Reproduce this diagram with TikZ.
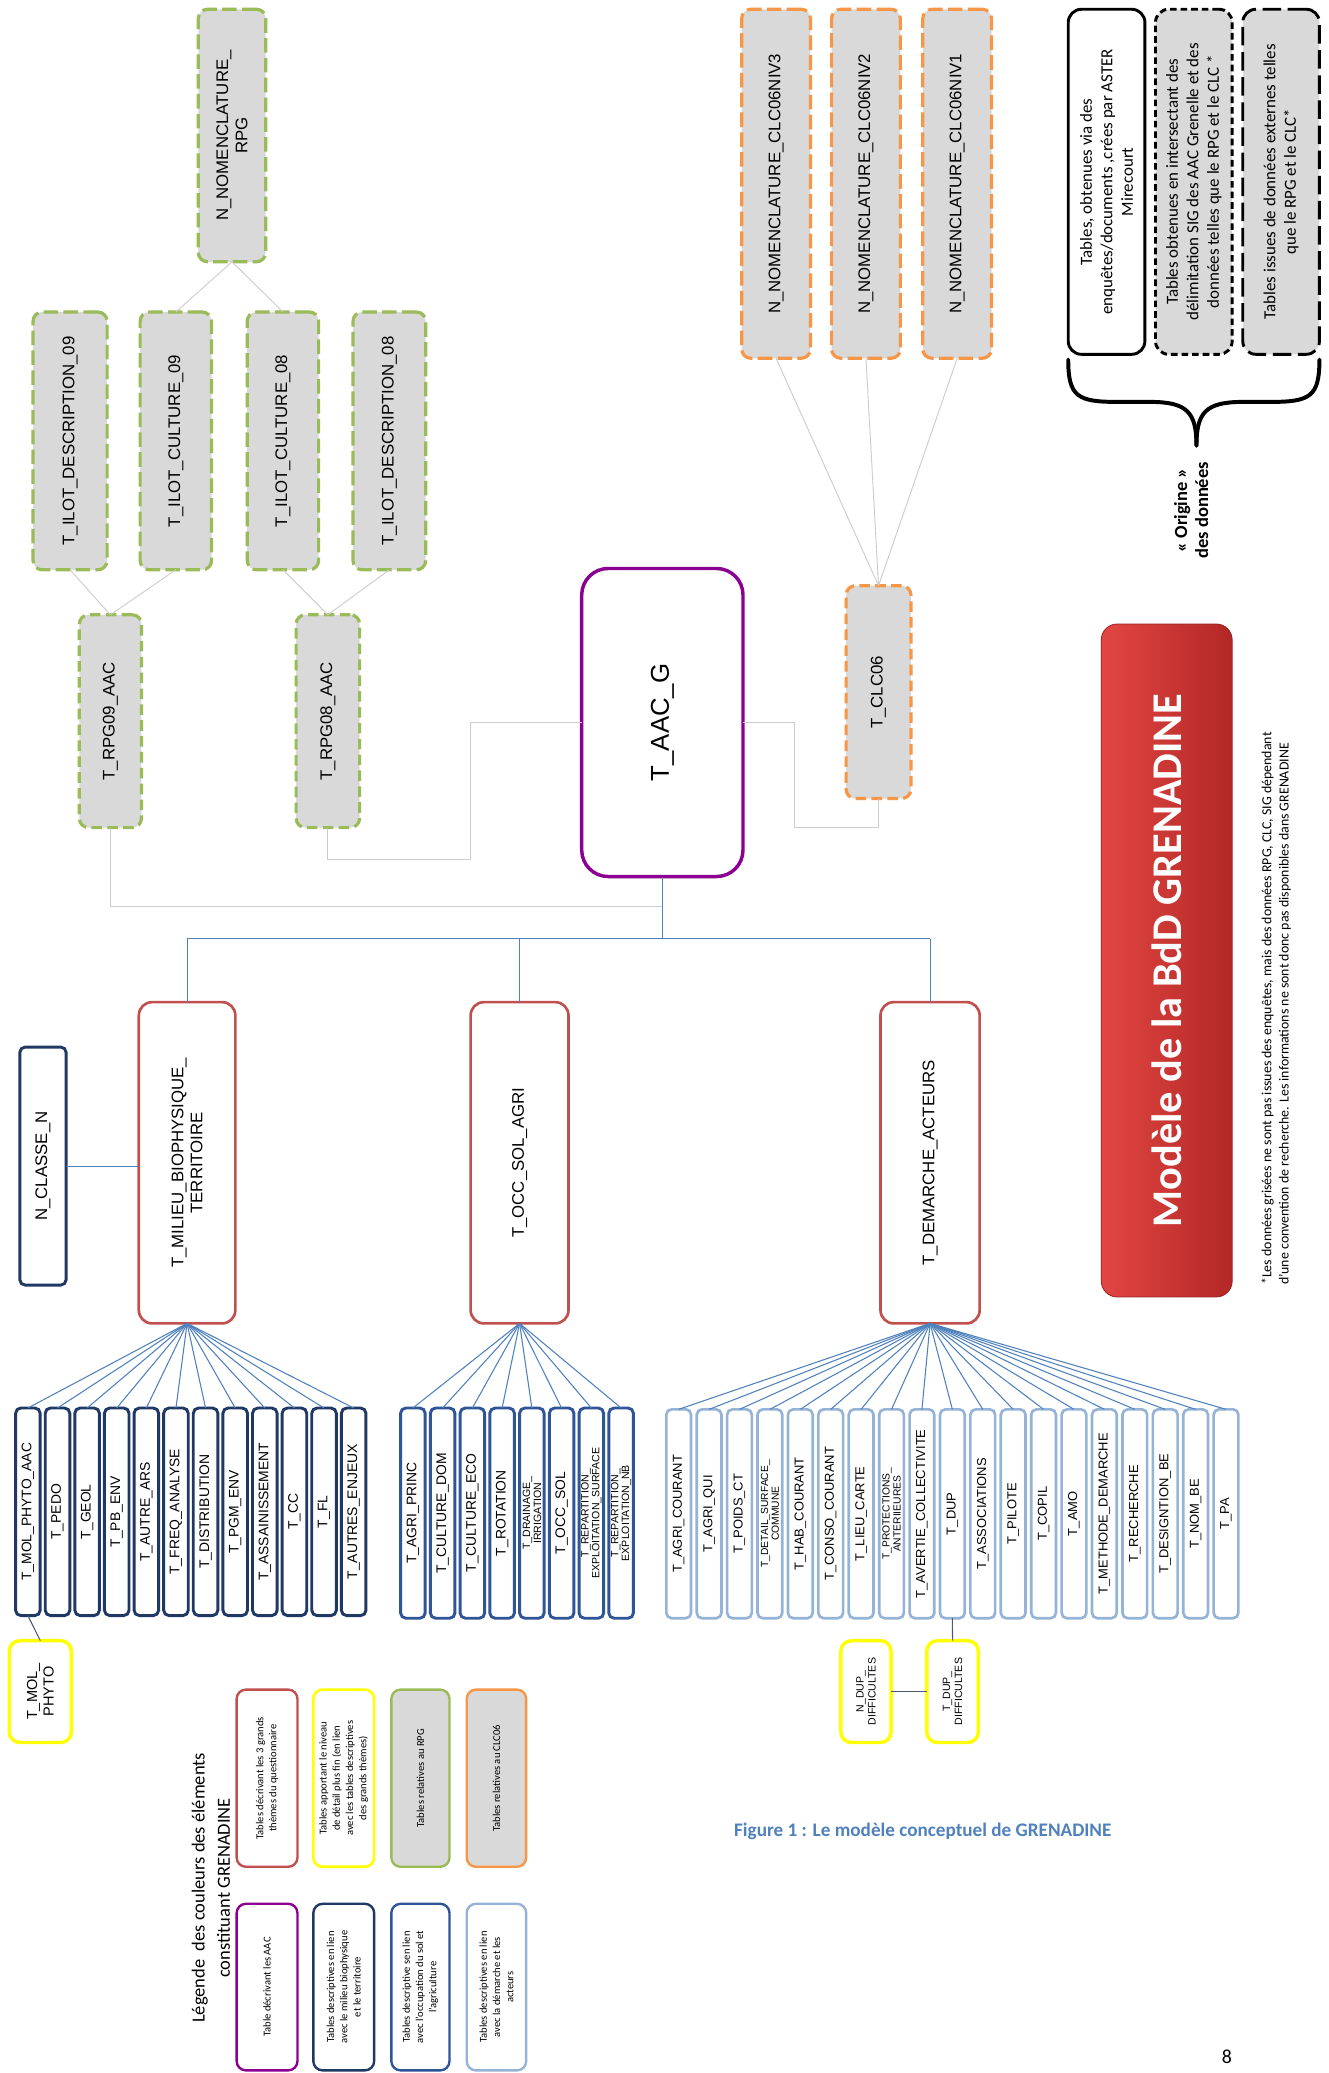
\documentclass[tikz,border=0pt]{standalone}
\usepackage{fontspec}
\setmainfont{Liberation Sans}
\newfontfamily\calib{Carlito}
\definecolor{cGreen}{RGB}{155,187,89}
\definecolor{cOrange}{RGB}{247,150,70}
\definecolor{cGray}{RGB}{217,217,217}
\definecolor{cPurple}{RGB}{140,0,145}
\definecolor{cRed}{RGB}{192,80,77}
\definecolor{cNavyA}{RGB}{31,56,100}
\definecolor{cNavyB}{RGB}{47,85,151}
\definecolor{cLite}{RGB}{149,179,215}
\definecolor{cYellow}{RGB}{255,255,0}
\definecolor{cLineBlue}{RGB}{79,129,189}
\definecolor{cLineGray}{RGB}{205,205,205}
\definecolor{cLineDark}{RGB}{75,90,110}
\definecolor{cTitL}{RGB}{226,70,66}
\definecolor{cTitR}{RGB}{178,40,38}
\definecolor{cCap}{RGB}{79,129,189}
\newcommand\bx[8][]{%
  \node[#3, minimum width={(#6-#4)*1pt}, minimum height={(#7-#5)*1pt}] (#2) at ({(#4+#6)/2},{(#5+#7)/2}) {};%
  \node[lbl,#1] (#2-t) at (#2.center) {#8};}
\begin{document}
\begin{tikzpicture}[x=1pt,y=-1pt,
  base/.style={draw, rounded corners=7pt, inner sep=0pt, outer sep=0pt},
  grn/.style={base, draw=cGreen, fill=cGray, line width=2.4pt, dash pattern=on 11pt off 4pt},
  grnS/.style={grn, dash pattern=on 8pt off 4pt},
  org/.style={base, draw=cOrange, fill=cGray, line width=2.4pt, dash pattern=on 11pt off 4pt},
  orgS/.style={org, dash pattern=on 8pt off 4pt},
  aacbox/.style={base, draw=cPurple, fill=white, line width=2.6pt, rounded corners=20pt},
  theme/.style={base, draw=cRed, fill=white, line width=2pt, rounded corners=10pt},
  navyA/.style={base, draw=cNavyA, fill=white, line width=2.2pt, rounded corners=4pt},
  navyB/.style={base, draw=cNavyB, fill=white, line width=2.2pt, rounded corners=4pt},
  lite/.style={base, draw=cLite, fill=white, line width=2pt, rounded corners=4pt},
  yel/.style={base, draw=cYellow, fill=white, line width=2.6pt, rounded corners=8pt},
  legred/.style={base, draw=cRed, fill=white, line width=1.8pt},
  legyel/.style={base, draw=cYellow, fill=white, line width=2pt},
  leggrn/.style={base, draw=cGreen, fill=cGray, line width=1.8pt},
  legorg/.style={base, draw=cOrange, fill=cGray, line width=1.8pt},
  legpur/.style={base, draw=cPurple, fill=white, line width=1.8pt},
  legnA/.style={base, draw=cNavyA, fill=white, line width=1.8pt},
  legnB/.style={base, draw=cNavyB, fill=white, line width=1.8pt},
  leglt/.style={base, draw=cLite, fill=white, line width=1.8pt},
  orig1/.style={base, draw=black, fill=white, line width=2.2pt, rounded corners=10pt},
  orig2/.style={base, draw=black, fill=cGray, line width=2.2pt, rounded corners=10pt, dash pattern=on 5pt off 3pt},
  orig3/.style={base, draw=black, fill=cGray, line width=2.2pt, rounded corners=10pt, dash pattern=on 14pt off 5pt},
  lbl/.style={rotate=90, align=center, inner sep=0pt, font=\fontsize{12.7}{14.5}\selectfont},
  sz1n/.style={font=\fontsize{10.5}{11}\selectfont},
  sz1s/.style={font=\fontsize{8}{8.3}\selectfont},
  sz3n/.style={font=\fontsize{9.8}{10}\selectfont},
  sz3s/.style={font=\fontsize{7.8}{8.2}\selectfont},
  leg/.style={font=\calib\fontsize{8}{10}\selectfont},
  ori/.style={font=\calib\fontsize{12.8}{15.5}\selectfont},
  gl/.style={draw=cLineGray, line width=0.7pt},
  bl/.style={draw=cLineBlue, line width=0.8pt},
  dl/.style={draw=cLineDark, line width=0.8pt}]
\useasboundingbox (0,0) rectangle (1005,1568);
\fill[white] (0,0) rectangle (1005,1568);

% --- RPG group
\bx{nrpg}{grn}{150}{7}{201}{198}{N\_NOMENCLATURE\_\\RPG}
\bx{idesc09}{grn}{25}{236}{81}{431}{T\_ILOT\_DESCRIPTION\_09}
\bx{icult09}{grn}{106}{236}{160}{431}{T\_ILOT\_CULTURE\_09}
\bx{icult08}{grn}{187}{236}{241}{431}{T\_ILOT\_CULTURE\_08}
\bx{idesc08}{grn}{267}{236}{322}{431}{T\_ILOT\_DESCRIPTION\_08}
\bx{rpg09}{grnS}{60}{465}{107}{626}{T\_RPG09\_AAC}
\bx{rpg08}{grnS}{224}{465}{272}{626}{T\_RPG08\_AAC}
\draw[gl] (nrpg.south) -- (icult09.north);
\draw[gl] (nrpg.south) -- (icult08.north);
\draw[gl] (idesc09.south) -- (rpg09.north);
\draw[gl] (icult09.south) -- (rpg09.north);
\draw[gl] (icult08.south) -- (rpg08.north);
\draw[gl] (idesc08.south) -- (rpg08.north);

% --- AAC
\bx[font=\fontsize{19.5}{22}\selectfont]{aac}{aacbox}{440}{430}{562}{663}{T\_AAC\_G}

% --- CLC group
\bx{niv3}{org}{561}{7}{613}{271}{N\_NOMENCLATURE\_CLC06NIV3}
\bx{niv2}{org}{629}{7}{681}{271}{N\_NOMENCLATURE\_CLC06NIV2}
\bx{niv1}{org}{698}{7}{750}{271}{N\_NOMENCLATURE\_CLC06NIV1}
\bx{clc}{orgS}{640}{443}{689}{604}{T\_CLC06}
\draw[gl] (niv3.south) -- (clc.north);
\draw[gl] (niv2.south) -- (clc.north);
\draw[gl] (niv1.south) -- (clc.north);

% --- connectors around AAC
\draw[gl] (aac.west) -- (356,546.5) -- (356,650) -- (rpg08.south |- 0,650) -- (rpg08.south);
\draw[gl] (rpg09.south) -- (rpg09.south |- 0,686) -- (aac.south |- 0,686);
\draw[gl] (aac.east) -- (601,546.5) -- (601,626) -- (clc.south |- 0,626) -- (clc.south);

% --- themes
\bx{milieu}{theme}{105}{758}{178}{1001}{T\_MILIEU\_BIOPHYSIQUE\_\\TERRITOIRE}
\bx{occ}{theme}{356}{758}{430}{1001}{T\_OCC\_SOL\_AGRI}
\bx{dem}{theme}{666}{758}{741}{1001}{T\_DEMARCHE\_ACTEURS}
\bx{ncl}{navyA}{15}{792}{50}{972}{N\_CLASSE\_N}
\coordinate (hub) at (aac.south |- 0,710);
\draw[bl] (aac.south) -- (hub);
\draw[bl] (milieu.north |- hub) -- (dem.north |- hub);
\draw[bl] (milieu.north |- hub) -- (milieu.north);
\draw[bl] (occ.north |- hub) -- (occ.north);
\draw[bl] (dem.north |- hub) -- (dem.north);
\draw[bl] (ncl.east) -- (ncl.east -| milieu.west);

% --- group 1
\foreach \tx/\fz [count=\i] in {T\_MOL\_PHYTO\_AAC/n, T\_PEDO/n, T\_GEOL/n, T\_PB\_ENV/n, T\_AUTRE\_ARS/n, T\_FREQ\_ANALYSE/n, T\_DISTRIBUTION/n, T\_PGM\_ENV/n, T\_ASSAINISSEMENT/n, T\_CC/n, T\_FL/n, T\_AUTRES\_ENJEUX/n}{
  \pgfmathsetmacro\cx{11.8+22.4*(\i-1)+9.3}
  \node[navyA, minimum width=18.6pt, minimum height=157pt] (ga\i) at (\cx,1143.5) {};
  \node[lbl, sz1\fz] (ga\i-t) at (ga\i.center) {\tx};
  \draw[bl] (milieu.south) -- (ga\i.north);
}
% --- group 2
\foreach \tx/\fz [count=\i] in {T\_AGRI\_PRINC/n, T\_CULTURE\_DOM/n, T\_CULTURE\_ECO/n, T\_ROTATION/n, {T\_DRAINAGE\_\\IRRIGATION}/s, T\_OCC\_SOL/n, {T\_REPARTITION\_\\EXPLOITATION\_SURFACE}/s, {T\_REPARTITION\_\\EXPLOITATION\_NB}/s}{
  \pgfmathsetmacro\cx{303+22.5*(\i-1)+9.3}
  \node[navyB, minimum width=18.6pt, minimum height=159pt] (gb\i) at (\cx,1144.5) {};
  \node[lbl, sz1\fz] (gb\i-t) at (gb\i.center) {\tx};
  \draw[bl] (occ.south) -- (gb\i.north);
}
% --- group 3
\foreach \tx/\fz [count=\i] in {T\_AGRI\_COURANT/n, T\_AGRI\_QUI/n, T\_POIDS\_CT/n, {T\_DETAIL\_SURFACE\_\\COMMUNE}/s, T\_HAB\_COURANT/n, T\_CONSO\_COURANT/n, T\_LIEU\_CARTE/n, {T\_PROTECTIONS\_\\ANTERIIEURES}/s, T\_AVERTIE\_COLLECTIVITE/n, T\_DUP/n, T\_ASSOCIATIONS/n, T\_PILOTE/n, T\_COPIL/n, T\_AMO/n, T\_METHODE\_DEMARCHE/n, T\_RECHERCHE/n, T\_DESIGNTION\_BE/n, T\_NOM\_BE/n, T\_PA/n}{
  \pgfmathsetmacro\cx{504+23*(\i-1)+9.35}
  \node[lite, minimum width=18.7pt, minimum height=158pt] (gc\i) at (\cx,1145) {};
  \node[lbl, sz3\fz] (gc\i-t) at (gc\i.center) {\tx};
  \draw[bl] (dem.south) -- (gc\i.north);
}

% --- yellow detail tables
\bx[font=\fontsize{11}{12.5}\selectfont]{molphyto}{yel}{7}{1241}{54}{1318}{T\_MOL\_\\PHYTO}
\bx[font=\fontsize{8}{9}\selectfont]{ndup}{yel}{636}{1241}{674}{1318}{N\_DUP\_\\DIFFICULTES}
\bx[font=\fontsize{8}{9}\selectfont]{tdup}{yel}{701}{1241}{740}{1318}{T\_DUP\_\\DIFFICULTES}
\draw[dl] (ga1.south) -- (molphyto.north);
\draw[dl] (gc10.south) -- (tdup.north);
\draw[dl] (ndup.east) -- (tdup.west);

% --- origin legend
\bx[ori]{o1}{orig1}{808}{7}{866}{268}{Tables, obtenues via des\\enquêtes/documents ,crées par ASTER\\Mirecourt}
\bx[ori]{o2}{orig2}{874}{7}{932}{268}{Tables obtenues en intersectant des\\délimitation SIG des AAC Grenelle et des\\données telles que le RPG et le CLC *}
\bx[ori]{o3}{orig3}{940}{7}{998}{268}{Tables issues de données externes telles\\que le RPG et le CLC*}
\draw[line width=3pt, line cap=round] (808,272) .. controls (808,300) and (815,304) .. (845,304) -- (870,304) .. controls (898,304) and (905,312) .. (905,337);
\draw[line width=3pt, line cap=round] (998,272) .. controls (998,300) and (991,304) .. (961,304) -- (940,304) .. controls (912,304) and (905,312) .. (905,337);
\node[rotate=90, align=center, inner sep=0pt, font=\calib\bfseries\fontsize{14}{16}\selectfont] (origine) at (901,386) {« Origine »\\des données};

% --- title
\node[base, rounded corners=12pt, draw=cTitR!85!black, line width=0.6pt, left color=cTitL, right color=cTitR, minimum width=99pt, minimum height=509pt] (title) at (882.5,726.5) {};
\node[rotate=90, inner sep=0pt, text=white, font=\calib\bfseries\fontsize{32}{36}\selectfont] (title-t) at (title.center) {Modèle de la BdD GRENADINE};

% --- footnote
\node[rotate=90, anchor=north west, align=left, inner sep=0pt, font=\calib\fontsize{10.5}{13}\selectfont] (foot) at (954,972) {*Les données grisées ne sont pas issues des enquêtes, mais des données RPG, CLC, SIG dépendant\\d’une convention de recherche. Les informations ne sont donc pas disponibles dans GRENADINE};

% --- colour legend
\node[rotate=90, align=center, inner sep=0pt, font=\calib\fontsize{14}{19}\selectfont] (legtitle) at (159.5,1428) {Légende\ \ des couleurs des éléments\\constituant GRENADINE};
\bx[leg]{lgA1}{legred}{179}{1278}{225}{1412}{Tables décrivant les 3 grands\\thèmes du questionnaire}
\bx[leg]{lgA2}{legyel}{237}{1278}{283}{1412}{Tables apportant le niveau\\de détail plus fin (en lien\\avec les tables descriptives\\des grands thèmes)}
\bx[leg]{lgA3}{leggrn}{296}{1278}{340}{1412}{Tables relatives au RPG}
\bx[leg]{lgA4}{legorg}{353}{1278}{398}{1412}{Tables relatives au CLC06}
\bx[leg]{lgB1}{legpur}{179}{1440}{225}{1566}{Table décrivant les AAC}
\bx[leg]{lgB2}{legnA}{237}{1440}{283}{1566}{Tables descriptives en lien\\avec le milieu biophysique\\et le territoire}
\bx[leg]{lgB3}{legnB}{296}{1440}{340}{1566}{Tables descriptive sen lien\\avec l’occupation du sol et\\l’agriculture}
\bx[leg]{lgB4}{leglt}{353}{1440}{398}{1566}{Tables descriptives en lien\\avec la démarche et les\\acteurs}

% --- caption and page number
\node[inner sep=0pt, text=cCap, font=\calib\bfseries\fontsize{14.5}{16}\selectfont] (cap) at (698,1385) {Figure 1 : Le modèle conceptuel de GRENADINE};
\node[inner sep=0pt, font=\calib\fontsize{15}{16}\selectfont] (pg) at (928,1556) {8};
\end{tikzpicture}
\end{document}
